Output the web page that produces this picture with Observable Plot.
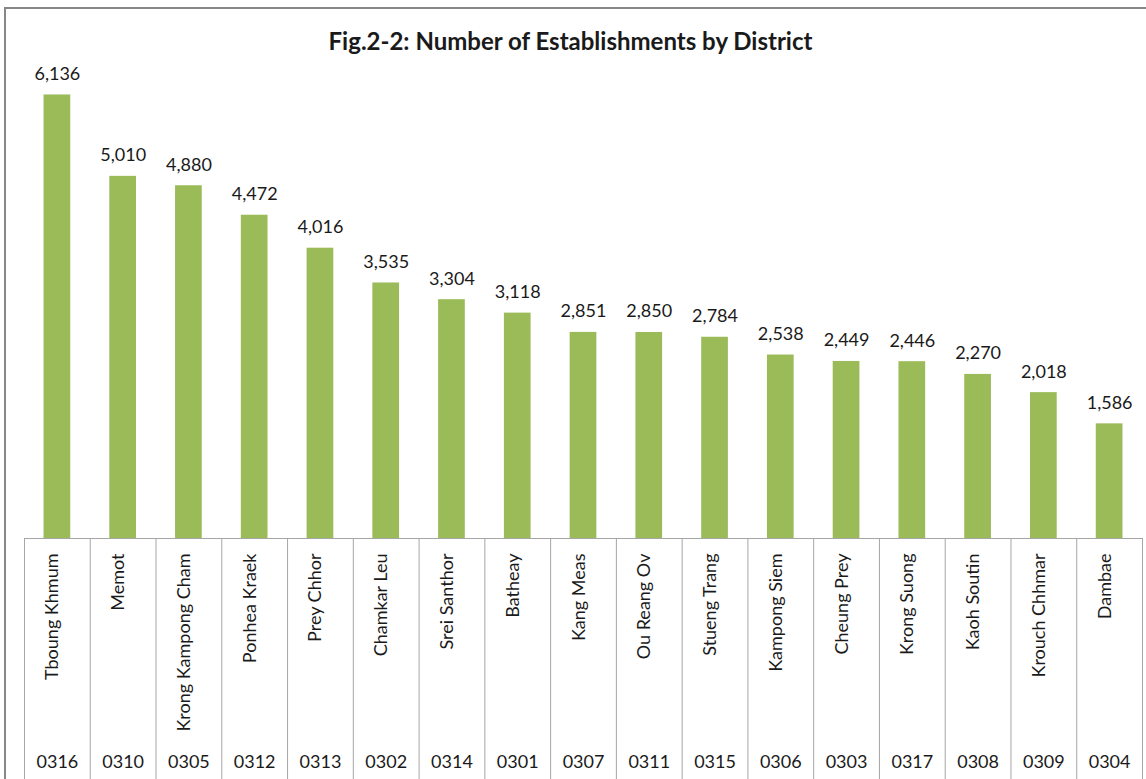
<!DOCTYPE html>
<html>
<head>
<meta charset="utf-8">
<script src="https://cdn.jsdelivr.net/npm/d3@7"></script>
<script src="https://cdn.jsdelivr.net/npm/@observablehq/plot@0.6"></script>
<style>
  html, body { margin: 0; padding: 0; background: #fff; overflow: hidden; }
  #chart { position: absolute; left: 0; top: 0; }
  #frame { position: absolute; left: 4px; top: 7px; width: 1200px; height: 900px;
           border-top: 2px solid #878787; border-left: 2px solid #878787; pointer-events: none; }
</style>
</head>
<body>
<div id="chart"></div>
<div id="frame"></div>
<script>
const title = "Fig.2-2: Number of Establishments by District";
const names = ["Tboung Khmum","Memot","Krong Kampong Cham","Ponhea Kraek","Prey Chhor","Chamkar Leu","Srei Santhor","Batheay","Kang Meas","Ou Reang Ov","Stueng Trang","Kampong Siem","Cheung Prey","Krong Suong","Kaoh Soutin","Krouch Chhmar","Dambae"];
const codes = ["0316","0310","0305","0312","0313","0302","0314","0301","0307","0311","0315","0306","0303","0317","0308","0309","0304"];
const values = [6136,5010,4880,4472,4016,3535,3304,3118,2851,2850,2784,2538,2449,2446,2270,2018,1586];

const data = names.map((n, i) => ({name: n, code: codes[i], value: values[i]}));

const W = 1146, H = 779, mL = 24, mR = 4, mT = 32, mB = 241;
const step = (W - mL - mR) / names.length;
const gridColor = "#A6A6A6";
const textColor = "#1a1a1a";
const font = "Lato, 'Open Sans', sans-serif";

const chart = Plot.plot({
  width: W, height: H,
  marginLeft: mL, marginRight: mR, marginTop: mT, marginBottom: mB,
  x: {domain: names, paddingInner: 0.594, paddingOuter: 0.297, round: false, axis: null},
  y: {domain: [0, 7000], axis: null},
  style: {fontFamily: font, fontSize: "18px", background: "white", color: textColor},
  marks: [
    Plot.barY(data, {x: "name", y: "value", fill: "#9BBB59"}),
    Plot.text(data, {x: "name", y: "value", text: d => d3.format(",")(d.value),
      lineAnchor: "bottom", dy: -15, fontSize: 18, fill: textColor}),
    Plot.ruleY([0], {stroke: gridColor, strokeWidth: 1}),
    Plot.ruleX(names, {x: d => d, dx: -step / 2, insetTop: H - mT - mB, insetBottom: -mB, stroke: gridColor}),
    Plot.ruleX([names[names.length - 1]], {x: d => d, dx: step / 2, insetTop: H - mT - mB, insetBottom: -mB, stroke: gridColor}),
    Plot.text(data, {x: "name", text: "name", frameAnchor: "bottom", rotate: -90, textAnchor: "end",
      dy: 15, dx: 1, fontSize: 18, fill: textColor}),
    Plot.text(data, {x: "name", text: "code", frameAnchor: "bottom", lineAnchor: "bottom",
      dy: 229, fontSize: 18, fill: textColor}),
    Plot.text([title], {frameAnchor: "top", lineAnchor: "bottom", dy: 17, dx: -13,
      fontSize: 24, fontWeight: "bold", fill: textColor})
  ]
});
document.getElementById("chart").appendChild(chart);
</script>
</body>
</html>
